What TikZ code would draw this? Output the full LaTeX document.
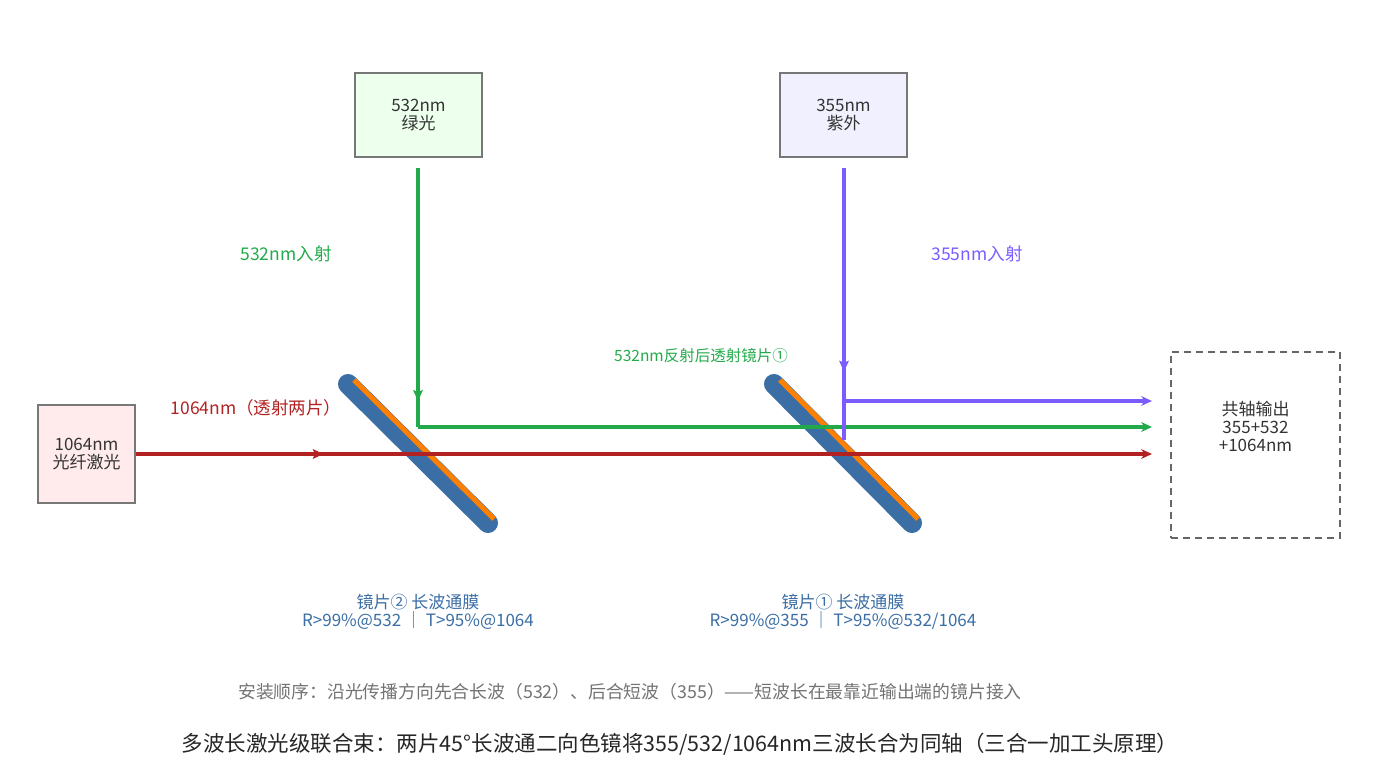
\documentclass[tikz,border=0pt]{standalone}
\usepackage{fontspec}
\setmainfont{Noto Sans CJK SC}
\usetikzlibrary{arrows.meta,decorations.markings}
\definecolor{cred}{HTML}{B22222}
\definecolor{cgreen}{HTML}{22AA4A}
\definecolor{cpurp}{HTML}{7B5CFF}
\definecolor{cblue}{HTML}{3A6EA5}
\definecolor{corange}{HTML}{FF7F00}
\definecolor{cgray}{HTML}{777777}
\begin{document}
\begin{tikzpicture}[x=1pt,y=-1pt,
 box/.style={draw=cgray,line width=1.5pt,minimum width=127pt,minimum height=84pt,align=center,font=\fontsize{17}{18}\selectfont,text=black!80},
 beam/.style={line width=3.5pt},
 tip/.style={-{Stealth[length=11pt,width=10pt,line width=0pt]}},
 mid/.style={postaction={decorate},decoration={markings,mark=at position #1 with {\fill (5,0) -- (-6,-5) -- (-4,0) -- (-6,5) -- cycle;}}},
 lbl/.style={font=\fontsize{17.5}{19}\selectfont},
 mirror/.style={line width=20pt,line cap=round,draw=cblue},
 coat/.style={line width=5pt,draw=corange}]
\useasboundingbox (0,0) rectangle (1385,784);
\node[box,fill=green!7] (g) at (418.5,115) {532nm\\绿光};
\node[box,fill=blue!6] (p) at (843.5,115) {355nm\\紫外};
\node[box,fill=red!8,minimum width=97pt,minimum height=98pt] (r) at (86.5,454) {1064nm\\光纤激光};
\node[draw=black!60,line width=2pt,dash pattern=on 7pt off 5pt,minimum width=169pt,minimum height=186pt] (o) at (1255.5,445) {};
\node[font=\fontsize{17}{18}\selectfont,align=center,text=black!80] (ot) at (1255.5,426) {共轴输出\\355+532\\+1064nm};
% mirrors
\coordinate (m2a) at (348,384); \coordinate (m2b) at (488,523);
\coordinate (m1a) at (774,384); \coordinate (m1b) at (912,523);
\draw[mirror] (m2a) -- (m2b);
\draw[mirror] (m1a) -- (m1b);
\draw[coat] ([shift={(6,-4)}]m2a) -- ([shift={(6,-4)}]m2b);
\draw[coat] ([shift={(6,-4)}]m1a) -- ([shift={(6,-4)}]m1b);
% beams
\coordinate (gs) at (418,168); \coordinate (gc) at (418,427); \coordinate (ge) at (1152,427);
\draw[beam,cgreen,mid=0.88] (gs) -- (gc);
\draw[beam,cgreen,tip] (gc) -- (ge);
\coordinate (ps) at (844,168); \coordinate (pc) at (844,401); \coordinate (pd) at (844,440); \coordinate (pe) at (1152,401);
\draw[beam,cpurp,mid=0.73] (ps) -- (pd);
\draw[beam,cpurp,tip] (pc) -- (pe);
\coordinate (re) at (1152,454);
\draw[beam,cred,tip,mid=0.18] (r.east) -- (re);
% labels
\node[lbl,text=cgreen] (l1) at (286,254) {532nm入射};
\node[lbl,text=cpurp] (l2) at (977,254) {355nm入射};
\node[font=\fontsize{15.5}{16}\selectfont,text=cgreen] (l3) at (701,356) {532nm反射后透射镜片①};
\node[lbl,text=cred] (l4) at (256,408) {1064nm（透射两片）};
\node[lbl,text=cblue,align=center,font=\fontsize{17}{18}\selectfont] (l5) at (418,612) {镜片② 长波通膜\\R>99\%@532 ｜ T>95\%@1064};
\node[lbl,text=cblue,align=center,font=\fontsize{17}{18}\selectfont] (l6) at (843,612) {镜片① 长波通膜\\R>99\%@355 ｜ T>95\%@532/1064};
\node[font=\fontsize{17.8}{19}\selectfont,text=black!55] (l7) at (630,692) {安装顺序：沿光传播方向先合长波（532）、后合短波（355）——短波长在最靠近输出端的镜片接入};
\node[font=\fontsize{21.5}{22}\selectfont,text=black!85] (t) at (680,744) {多波长激光级联合束：两片45°长波通二向色镜将355/532/1064nm三波长合为同轴（三合一加工头原理）};
\end{tikzpicture}
\end{document}
